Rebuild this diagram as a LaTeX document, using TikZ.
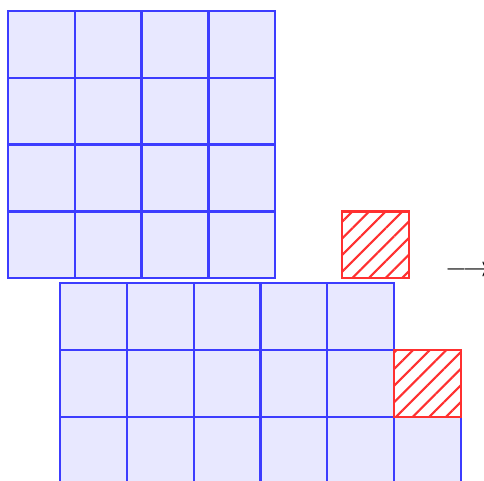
\documentclass[tikz,border=0pt]{standalone}
\usepackage{amsmath,amssymb}
\usetikzlibrary{patterns.meta}
\definecolor{cellc}{HTML}{E8E8FF}
\definecolor{gridc}{HTML}{3C3CFF}
\definecolor{holec}{HTML}{FF3030}
\tikzset{
  cell/.style={draw=gridc, fill=cellc, line width=1pt},
  hole/.style={draw=holec, line width=1pt,
    pattern={Lines[angle=45, distance=5pt, line width=0.9pt]},
    pattern color=holec},
  lbl/.style={font=\fontsize{11.5}{13}\selectfont, inner sep=0pt}}

\begin{document}
\begin{tikzpicture}
  \useasboundingbox (0,0) rectangle (7.246,-7.201);
  \clip (0,0) rectangle (7.246,-7.201);
  % ---- upper board: 4 x 4, with the loose piece beside its last row
  \begin{scope}[shift={(0.12,-0.165)}]
    \foreach \i in {0,...,3}
      \foreach \j in {0,...,3}
        \draw[cell] (\i,-\j) rectangle ++(1,-1);
    \draw[hole] (5,-3) rectangle ++(1,-1);
  \end{scope}
  % ---- lower board: two rows of five, a third row of six
  \begin{scope}[shift={(0.9,-4.24)}]
    \foreach \i in {0,...,4}
      \foreach \j in {0,1}
        \draw[cell] (\i,-\j) rectangle ++(1,-1);
    \foreach \i in {0,...,5}
      \draw[cell] (\i,-2) rectangle ++(1,-1);
    \draw[hole] (5,-1) rectangle ++(1,-1);
  \end{scope}
  % the arrow, cut by the right edge
  \node[lbl, anchor=base west] (arr) at (6.67,-4.14) {$\longrightarrow$};
\end{tikzpicture}
\end{document}
